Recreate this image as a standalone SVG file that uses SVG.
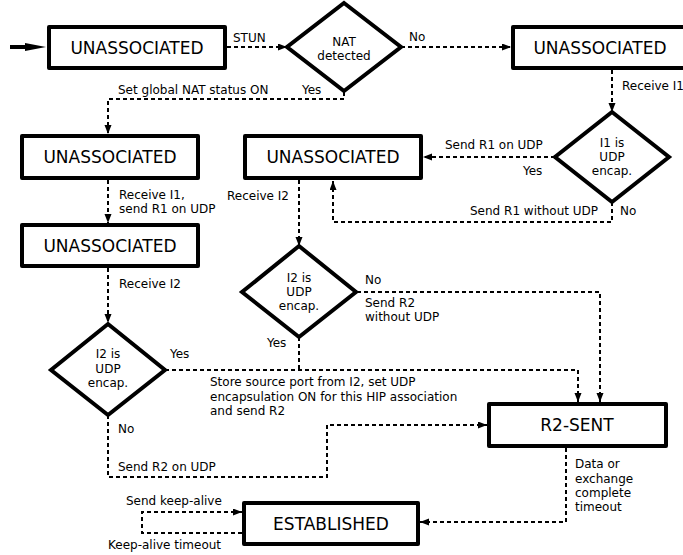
<svg xmlns="http://www.w3.org/2000/svg" width="683" height="555" viewBox="0 0 683 555">
<style>
.box{fill:#fff;stroke:#000;stroke-width:4;stroke-linejoin:round}
.dia{fill:#fff;stroke:#000;stroke-width:4;stroke-linejoin:miter}
.bt{font-family:"DejaVu Sans",sans-serif;font-size:17px;text-anchor:middle;fill:#000}
.dt{font-family:"DejaVu Sans",sans-serif;font-size:12px;text-anchor:middle;fill:#000}
.lb{font-family:"DejaVu Sans",sans-serif;font-size:12px;fill:#000}
.cn{fill:none;stroke:#000;stroke-width:2;stroke-dasharray:4,3}
.ca{marker-end:url(#ah)}
</style>
<defs>
<marker id="ah" markerUnits="userSpaceOnUse" markerWidth="10" markerHeight="8" refX="9" refY="3.5" orient="auto">
<path d="M0,0 L9,3.5 L0,7 z" fill="#000"/>
</marker>
</defs>
<rect width="683" height="555" fill="#fff"/>
<g id="connectors">
<line x1="10" y1="47" x2="27" y2="47" stroke="#000" stroke-width="4"/>
<path d="M25,43 L46,47 L25,51 z" fill="#000"/>
<path class="cn ca" d="M227,47 H287"/>
<path class="cn ca" d="M401,47 H511"/>
<path class="cn ca" d="M344,92 V99 H108 V134"/>
<path class="cn ca" d="M612,70 V112"/>
<path class="cn ca" d="M555,157 H423"/>
<path class="cn ca" d="M612,202 V222 H333 V181"/>
<path class="cn ca" d="M108,180 V223"/>
<path class="cn ca" d="M108,268 V323"/>
<path class="cn ca" d="M299,180 V246"/>
<path class="cn ca" d="M165,370 H578 V402"/>
<path class="cn" d="M299,337 V370"/>
<path class="cn ca" d="M357,292 H600 V402"/>
<path class="cn ca" d="M108,415 V477 H327 V425 H487"/>
<path class="cn ca" d="M566,448 V522 H420"/>
<path class="cn ca" d="M242,533 H142 V512 H242"/>
</g>
<g id="start">
<rect class="box" x="49" y="27" width="176" height="41"/>
<text class="bt" x="137" y="54">UNASSOCIATED</text>
</g>
<g id="nat">
<polygon class="dia" points="344,3 401,47 344,91 287,47"/>
<text class="dt" x="344" y="46">NAT</text>
<text class="dt" x="344" y="60">detected</text>
</g>
<g id="unassoc-b">
<rect class="box" x="513" y="27" width="176" height="41"/>
<text class="bt" x="600" y="54">UNASSOCIATED</text>
</g>
<g id="i1-udp">
<polygon class="dia" points="612,112 669,157 612,202 555,157"/>
<text class="dt" x="612" y="147">I1 is</text>
<text class="dt" x="612" y="161">UDP</text>
<text class="dt" x="612" y="175">encap.</text>
</g>
<g id="unassoc-c">
<rect class="box" x="245" y="136" width="176" height="42"/>
<text class="bt" x="333" y="163">UNASSOCIATED</text>
</g>
<g id="unassoc-d">
<rect class="box" x="22" y="136" width="176" height="42"/>
<text class="bt" x="110" y="163">UNASSOCIATED</text>
</g>
<g id="unassoc-e">
<rect class="box" x="22" y="225" width="176" height="41"/>
<text class="bt" x="110" y="252">UNASSOCIATED</text>
</g>
<g id="i2-mid">
<polygon class="dia" points="299,246 356,292 299,337 242,292"/>
<text class="dt" x="299" y="282">I2 is</text>
<text class="dt" x="299" y="296">UDP</text>
<text class="dt" x="299" y="310">encap.</text>
</g>
<g id="i2-left">
<polygon class="dia" points="108,324 165,370 108,415 51,370"/>
<text class="dt" x="108" y="358">I2 is</text>
<text class="dt" x="108" y="373">UDP</text>
<text class="dt" x="108" y="387">encap.</text>
</g>
<g id="r2-sent">
<rect class="box" x="489" y="404" width="177" height="42"/>
<text class="bt" x="577" y="431">R2-SENT</text>
</g>
<g id="established">
<rect class="box" x="244" y="503" width="174" height="41"/>
<text class="bt" x="331" y="530">ESTABLISHED</text>
</g>
<g id="labels">
<text class="lb" x="233" y="42">STUN</text>
<text class="lb" x="409" y="41">No</text>
<text class="lb" x="622" y="90">Receive I1</text>
<text class="lb" x="445" y="149">Send R1 on UDP</text>
<text class="lb" x="523" y="175">Yes</text>
<text class="lb" x="470" y="215">Send R1 without UDP</text>
<text class="lb" x="620" y="215">No</text>
<text class="lb" x="118" y="94">Set global NAT status ON</text>
<text class="lb" x="302" y="94">Yes</text>
<text class="lb" x="119" y="199">Receive I1,</text>
<text class="lb" x="119" y="213">send R1 on UDP</text>
<text class="lb" x="119" y="288">Receive I2</text>
<text class="lb" x="227" y="200">Receive I2</text>
<text class="lb" x="365" y="284">No</text>
<text class="lb" x="365" y="307">Send R2</text>
<text class="lb" x="365" y="321">without UDP</text>
<text class="lb" x="267" y="347">Yes</text>
<text class="lb" x="170" y="358">Yes</text>
<text class="lb" x="210" y="386">Store source port from I2, set UDP</text>
<text class="lb" x="210" y="401">encapsulation ON for this HIP association</text>
<text class="lb" x="210" y="415">and send R2</text>
<text class="lb" x="118" y="433">No</text>
<text class="lb" x="118" y="471">Send R2 on UDP</text>
<text class="lb" x="575" y="468">Data or</text>
<text class="lb" x="575" y="483">exchange</text>
<text class="lb" x="575" y="497">complete</text>
<text class="lb" x="575" y="511">timeout</text>
<text class="lb" x="126" y="505">Send keep-alive</text>
<text class="lb" x="108" y="549">Keep-alive timeout</text>
</g>
</svg>
